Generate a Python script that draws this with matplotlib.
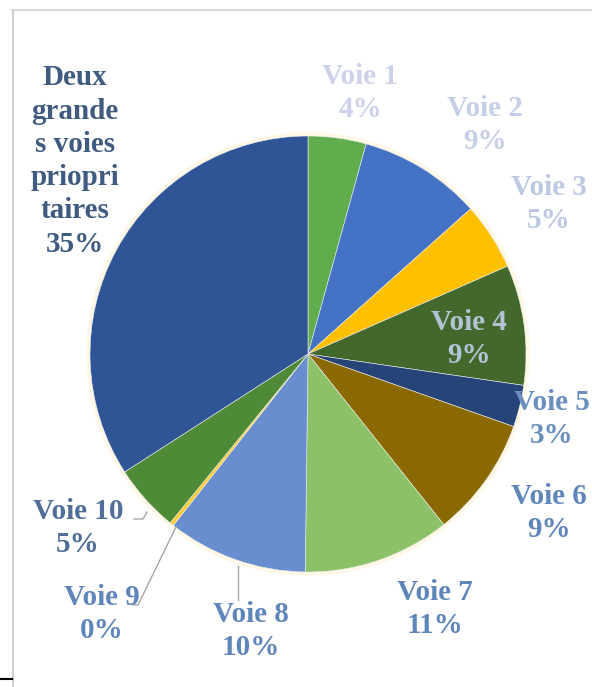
import matplotlib.pyplot as plt
from matplotlib.lines import Line2D

# slice values (percent), clockwise from 12 o'clock
names = ["Voie 1", "Voie 2", "Voie 3", "Voie 4", "Voie 5", "Voie 6",
         "Voie 7", "Voie 8", "Voie 9", "Voie 10",
         "Deux\ngrande\ns voies\npriopri\ntaires"]
values = [4.3, 9.1, 5.0, 8.9, 3.1, 8.9, 10.9, 10.4, 0.3, 5.0, 34.1]
pct_labels = ["4%", "9%", "5%", "9%", "3%", "9%", "11%", "10%", "0%", "5%", "35%"]

colors = ["#5fad4c", "#4472c4", "#ffc000", "#43682b", "#264478", "#8a6a00",
          "#8cc168", "#698ed0", "#ffcd33", "#4f8a37", "#2f5597"]

W, H = 592, 687
CX, CY, R = 308, 354, 218  # pie center / radius in pixel coords (y down)

# label anchor positions (pixel coords, y down) and text colours
label_pos = [(360, 93), (485, 125), (549, 204), (469, 339), (552, 419),
             (549, 513), (435, 609), (251, 631), (102, 614), (78, 528),
             (75, 161)]
label_col = ["#cdd2ea", "#c6cfe8", "#bcc8e2", "#b4c3d6", "#6a8fbd",
             "#5f86bb", "#5f86bb", "#5f86bb", "#5f86bb", "#4f6f99",
             "#3f5c80"]


def py(y):
    return H - y


fig = plt.figure(figsize=(W / 100, H / 100), dpi=100)
ax = fig.add_axes([0, 0, 1, 1])

# faint glow around the pie
glow = plt.Circle((CX, py(CY)), R + 3, color="#fff8e6", zorder=0)
ax.add_patch(glow)

ax.pie(values, colors=colors, startangle=90, counterclock=False,
       center=(CX, py(CY)), radius=R, frame=True,
       wedgeprops=dict(linewidth=0.4, edgecolor="#eeeeee"))
ax.set_xlim(0, W)
ax.set_ylim(0, H)
ax.set_aspect("equal")
ax.axis("off")

for name, pct, (x, y), c in zip(names, pct_labels, label_pos, label_col):
    ax.text(x, py(y), name + "\n" + pct, ha="center", va="center",
            fontsize=21, fontweight="bold", family="Liberation Serif",
            color=c, linespacing=1.3)

# leader lines
lc = "#a6a6a6"
ax.add_line(Line2D([133, 138, 176], [py(605), py(605), py(527)], color=lc, lw=1))
ax.add_line(Line2D([238, 238], [py(566), py(600)], color=lc, lw=1))
ax.add_line(Line2D([134, 143, 147], [py(519), py(519), py(512)], color=lc, lw=1))

# frame remnants
ax.add_line(Line2D([12, W], [py(10), py(10)], color="#d9d9d9", lw=1.5))
ax.add_line(Line2D([12.5, 12.5], [py(10), 0], color="#d0d0d0", lw=1.5))
ax.add_line(Line2D([0, 12], [py(679), py(679)], color="black", lw=1.5))

fig.savefig("out.png", dpi=100, facecolor="white")
